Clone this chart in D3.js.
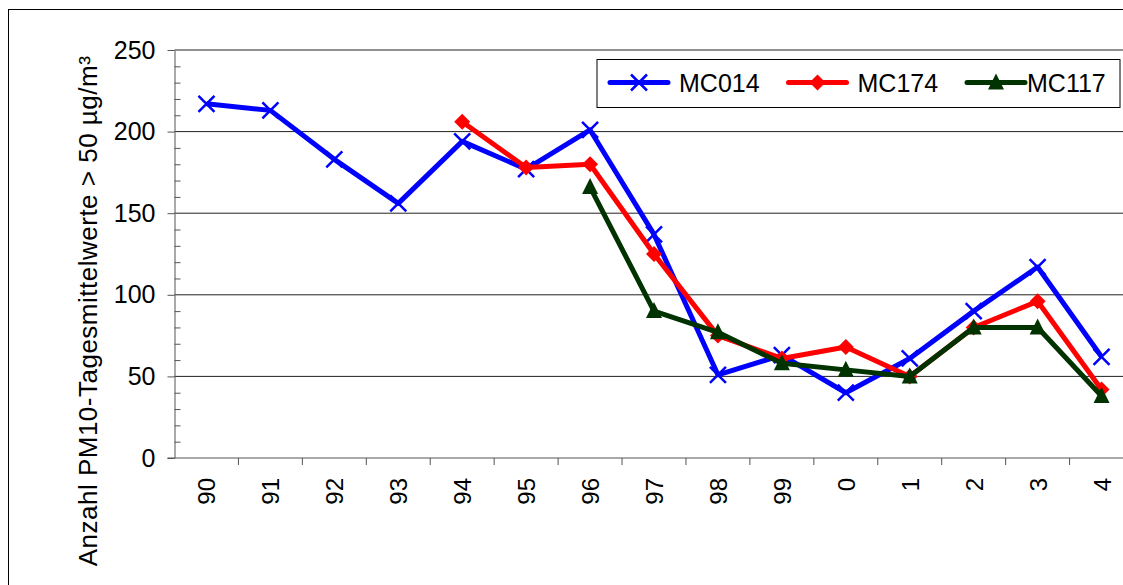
<!DOCTYPE html>
<meta charset="utf-8">
<script src="https://d3js.org/d3.v7.min.js"></script>
<style type="text/css">
body { margin: 0; background: #fff; }
svg text { font-family: "Liberation Sans", Arial, sans-serif; fill: #000; }
.axis path, .axis line { stroke: #555; }
.grid line { stroke: #222; }
</style>
<body>
<div id="canvas"></div>
<script>

// Jahre (Kategorien)
var jahre = ["90","91","92","93","94","95","96","97","98","99","0","1","2","3","4"];

// Messstellen - Anzahl Tage > 50 µg/m³
var mc014 = [217,213,183,156,194,177,201,137,51,63,40,61,90,117,62];
var mc174 = [null,null,null,null,206,178,180,125,75,61,68,50,80,96,42];
var mc117 = [null,null,null,null,null,null,166,90,77,58,54,50,80,80,38];

var serienNamen = ["MC014","MC174","MC117"];
var serienFarben = ["#0000ff","#ff0000","#003300"];
var yTicks = [0,50,100,150,200,250];

var width = 1123, height = 585;
var margin = {top: 50, left: 174.5, bottom: 127, right: -10.5};

var svg = d3.select("#canvas").append("svg")
	.attr("width", width)
	.attr("height", height);

// Rahmen
svg.append("rect")
	.attr("x", 8.5).attr("y", 9.5)
	.attr("width", width + 20).attr("height", height + 20)
	.style("fill", "none").style("stroke", "#000");

var x = d3.scaleBand()
	.domain(jahre)
	.range([margin.left, width - margin.right]);

var y = d3.scaleLinear()
	.domain([0, 250])
	.range([height - margin.bottom, margin.top]);

// Gitterlinien
svg.append("g").attr("class", "grid")
	.selectAll("line")
	.data(yTicks.slice(1))
	.enter().append("line")
	.attr("x1", margin.left).attr("x2", width)
	.attr("y1", function(d) { return y(d); })
	.attr("y2", function(d) { return y(d); });

// Y-Achse: Hauptstriche nach aussen, Nebenstriche nach innen
var gy = svg.append("g").attr("class", "axis")
	.attr("transform", "translate(" + margin.left + ",0)");
gy.call(d3.axisLeft(y).tickValues(yTicks).tickSize(7).tickPadding(12).tickSizeOuter(0))
	.selectAll("text").style("font-size", "25px").style("font-family", '"Liberation Sans", Arial, sans-serif').attr("fill", "#000");
gy.append("g")
	.call(d3.axisRight(y).tickValues(d3.range(10, 250, 10).filter(function(v) { return v % 50; })).tickSize(6).tickFormat(""))
	.select(".domain").remove();

// X-Achse
var xEdges = jahre.slice(1).map(function(j) { return x(j); });
var gx = svg.append("g").attr("class", "axis")
	.attr("transform", "translate(0," + y(0) + ")");
gx.append("line")
	.attr("x1", margin.left - 7).attr("x2", width)
	.attr("y1", 0).attr("y2", 0);
gx.selectAll(".tick")
	.data(xEdges)
	.enter().append("line")
	.attr("x1", function(d) { return d; }).attr("x2", function(d) { return d; })
	.attr("y1", 0).attr("y2", 7);
gx.selectAll(".lbl")
	.data(jahre)
	.enter().append("text")
	.attr("class", "lbl")
	.attr("transform", function(d) { return "translate(" + (x(d) + x.bandwidth() / 2 + 9) + ",20) rotate(-90)"; })
	.attr("text-anchor", "end")
	.style("font-size", "24px")
	.text(function(d) { return d; });

// Y-Titel
svg.append("text")
	.attr("transform", "translate(97," + 311 + ") rotate(-90)")
	.attr("text-anchor", "middle")
	.style("font-size", "26px")
	.style("letter-spacing", "0.5px")
	.text("Anzahl PM10-Tagesmittelwerte > 50 µg/m³");

// Marker
function marker(sel, i, col) {
	if (i === 0) {
		sel.append("path").attr("d", "M-8,-8L8,8M-8,8L8,-8")
			.style("stroke", col).style("stroke-width", 2.5).style("fill", "none");
	} else if (i === 1) {
		sel.append("path").attr("d", "M0,-8L8,0L0,8L-8,0Z").style("fill", col);
	} else {
		sel.append("path").attr("d", "M0,-9L8,7L-8,7Z").style("fill", col);
	}
}

var serien = [mc014, mc174, mc117];
var line = d3.line()
	.defined(function(d) { return d != null; })
	.x(function(d, i) { return x(jahre[i]) + x.bandwidth() / 2; })
	.y(function(d) { return y(d); });

serien.forEach(function(werte, s) {
	svg.append("path")
		.attr("d", line(werte))
		.style("fill", "none")
		.style("stroke", serienFarben[s])
		.style("stroke-width", 5)
		.style("stroke-linejoin", "round");
	werte.forEach(function(v, i) {
		if (v == null) return;
		var g = svg.append("g")
			.attr("transform", "translate(" + (x(jahre[i]) + x.bandwidth() / 2) + "," + y(v) + ")");
		marker(g, s, serienFarben[s]);
	});
});

// Legende
var leg = svg.append("g").attr("transform", "translate(597,59.5)");
leg.append("rect")
	.attr("width", 523).attr("height", 48)
	.style("fill", "#fff").style("stroke", "#000");
serienNamen.forEach(function(n, s) {
	var lx = 13 + s * 178.5;
	var e = leg.append("g").attr("transform", "translate(" + lx + ",23)");
	e.append("line").attr("x1", 0).attr("x2", 58)
		.style("stroke", serienFarben[s]).style("stroke-width", 5).style("stroke-linecap", "round");
	marker(e.append("g").attr("transform", "translate(29,0)"), s, serienFarben[s]);
	e.append("text").attr("x", s === 2 ? 60 : 69).attr("y", 9)
		.style("font-size", "25px")
		.text(n);
});
</script>
</body>
